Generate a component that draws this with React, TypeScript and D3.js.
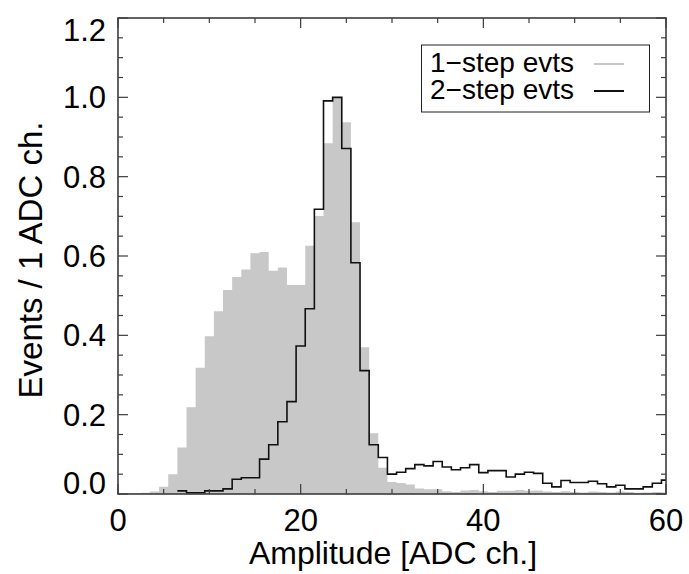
import React from "react";
import * as d3 from "d3";

// Channels (bin centres, ADC ch.)
const channels1 = [1,2,3,4,5,6,7,8,9,10,11,12,13,14,15,16,17,18,19,20,21,22,23,24,25,26,27,28,29,30,31,32,33,34,35,36,37,38,39,40,41,42,43,44,45,46,47,48,49,50,51,52,53,54,55,56,57,58,59,60];
const oneStep = [0.002,0.002,0.003,0.006,0.018,0.050,0.117,0.219,0.318,0.398,0.461,0.514,0.547,0.566,0.607,0.610,0.563,0.571,0.527,0.527,0.626,0.701,0.884,1.000,0.937,0.685,0.370,0.153,0.066,0.030,0.028,0.024,0.014,0.012,0.012,0.007,0.005,0.009,0.010,0.007,0.005,0.008,0.008,0.010,0.008,0.009,0.006,0.005,0.007,0.005,0.004,0.006,0.005,0.004,0.006,0.005,0.003,0.004,0.005,0.004];

const channels2 = [7,8,9,10,11,12,13,14,15,16,17,18,19,20,21,22,23,24,25,26,27,28,29,30,31,32,33,34,35,36,37,38,39,40,41,42,43,44,45,46,47,48,49,50,51,52,53,54,55,56,57,58,59,60];
const twoStep = [0.008,0.003,0.003,0.008,0.008,0.013,0.037,0.041,0.041,0.088,0.124,0.182,0.233,0.373,0.467,0.718,0.991,1.000,0.871,0.583,0.311,0.124,0.092,0.050,0.055,0.064,0.074,0.071,0.082,0.068,0.061,0.066,0.074,0.054,0.059,0.059,0.043,0.050,0.055,0.052,0.027,0.018,0.034,0.029,0.029,0.032,0.026,0.018,0.022,0.013,0.013,0.018,0.027,0.035];

const xMajorTicks = [0, 20, 40, 60];
const xMinorTicks = [5, 10, 15, 25, 30, 35, 45, 50, 55];
const yMajorTicks = [0, 0.2, 0.4, 0.6, 0.8, 1.0, 1.2];
const yMinorTicks = [0.05, 0.1, 0.15, 0.25, 0.3, 0.35, 0.45, 0.5, 0.55, 0.65, 0.7, 0.75, 0.85, 0.9, 0.95, 1.05, 1.1, 1.15];
const legendLabels = ["1\u2212step evts", "2\u2212step evts"];
const xTitle = "Amplitude [ADC ch.]";
const yTitle = "Events / 1 ADC ch.";

const W = 689, H = 574;
const L = 118, R = 666, T = 18, B = 494;
const FONT = "'Liberation Sans', Arial, Helvetica, sans-serif";
const GRAY = "#c8c8c8";
const AXIS = "#3c3c3c";

export default function App() {
  const x = d3.scaleLinear().domain([0, 60]).range([L, R]);
  const y = d3.scaleLinear().domain([0, 1.2]).range([B, T]);

  const pts1: [number, number][] = channels1.map((c, i) => [c - 0.5, oneStep[i]]);
  pts1.push([channels1[channels1.length - 1] + 0.5, oneStep[oneStep.length - 1]]);
  const area = d3.area<[number, number]>()
    .x(d => x(d[0]))
    .y0(y(0))
    .y1(d => y(d[1]))
    .curve(d3.curveStepAfter);

  const pts2: [number, number][] = channels2.map((c, i) => [c - 0.5, twoStep[i]]);
  pts2.push([channels2[channels2.length - 1] + 0.5, twoStep[twoStep.length - 1]]);
  const line = d3.line<[number, number]>()
    .x(d => x(d[0]))
    .y(d => y(d[1]))
    .curve(d3.curveStepAfter);

  const majLen = 10, minLen = 5;

  return (
    <svg width={W} height={H} style={{ position: "absolute", left: 0, top: 0, background: "#fff" }} fontFamily={FONT}>
      <defs>
        <clipPath id="plotclip">
          <rect x={L} y={T} width={R - L} height={B - T} />
        </clipPath>
      </defs>
      <g clipPath="url(#plotclip)">
        <path d={area(pts1) || ""} fill={GRAY} stroke="none" />
        <path d={line(pts2) || ""} fill="none" stroke="#111" strokeWidth={1.6} />
      </g>

      {/* ticks */}
      <g stroke={AXIS} strokeWidth={1.2}>
        {xMajorTicks.map(t => (
          <g key={"xM" + t}>
            <line x1={x(t)} x2={x(t)} y1={B} y2={B - majLen} />
            <line x1={x(t)} x2={x(t)} y1={T} y2={T + majLen} />
          </g>
        ))}
        {xMinorTicks.map(t => (
          <g key={"xm" + t}>
            <line x1={x(t)} x2={x(t)} y1={B} y2={B - minLen} />
            <line x1={x(t)} x2={x(t)} y1={T} y2={T + minLen} />
          </g>
        ))}
        {yMajorTicks.map(t => (
          <g key={"yM" + t}>
            <line x1={L} x2={L + majLen} y1={y(t)} y2={y(t)} />
            <line x1={R} x2={R - majLen} y1={y(t)} y2={y(t)} />
          </g>
        ))}
        {yMinorTicks.map(t => (
          <g key={"ym" + t}>
            <line x1={L} x2={L + minLen} y1={y(t)} y2={y(t)} />
            <line x1={R} x2={R - minLen} y1={y(t)} y2={y(t)} />
          </g>
        ))}
      </g>
      <rect x={L} y={T} width={R - L} height={B - T} fill="none" stroke={AXIS} strokeWidth={1.6} />

      {/* tick labels */}
      {xMajorTicks.map(t => (
        <text key={"xl" + t} x={x(t)} y={531} textAnchor="middle" fontSize={31} fill="#000">{t}</text>
      ))}
      {yMajorTicks.map((t, i) => {
        let yy = y(t);
        if (i === 0) yy -= 11;
        if (i === yMajorTicks.length - 1) yy += 12;
        return (
          <text key={"yl" + t} x={106} y={yy + 11} textAnchor="end" fontSize={31} fill="#000">{t.toFixed(1)}</text>
        );
      })}

      {/* axis titles */}
      <text x={(L + R) / 2 + 1} y={564} textAnchor="middle" fontSize={32} fill="#000">{xTitle}</text>
      <text transform={`translate(42, ${(T + B) / 2 + 4}) rotate(-90)`} textAnchor="middle" fontSize={33} fill="#000">{yTitle}</text>

      {/* legend */}
      <rect x={421.5} y={45} width={228} height={67} fill="#fff" stroke="#222" strokeWidth={1} />
      <text x={430} y={72} fontSize={28} fill="#000">{legendLabels[0]}</text>
      <text x={430} y={99} fontSize={28} fill="#000">{legendLabels[1]}</text>
      <line x1={594} x2={624} y1={64} y2={64} stroke={GRAY} strokeWidth={2} />
      <line x1={594} x2={624} y1={91} y2={91} stroke="#111" strokeWidth={2} />
    </svg>
  );
}
